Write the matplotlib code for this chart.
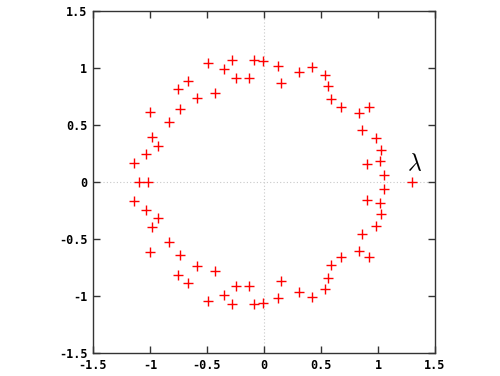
#!/usr/bin/env python3

"""Eigenvalue scatter in the complex plane, gnuplot style."""

import matplotlib
matplotlib.use('Agg')
import matplotlib.pyplot as plt
import numpy as np

# Upper half-plane eigenvalues (the lower half is the conjugate mirror).
upper_re = [-1.137, -1.035, -0.982, -0.933, -0.997, -0.833, -0.734, -0.751,
            -0.670, -0.588, -0.488, -0.427, -0.351, -0.281, -0.246, -0.135,
            -0.085, -0.009, 0.120, 0.146, 0.310, 0.418, 0.538, 0.564,
            0.588, 0.673, 0.833, 0.918, 0.857, 0.982, 1.029, 0.906,
            1.018, 1.053]
upper_im = [0.164, 0.246, 0.392, 0.319, 0.617, 0.526, 0.637, 0.819,
            0.883, 0.734, 1.047, 0.781, 0.991, 1.070, 0.909, 0.909,
            1.070, 1.061, 1.018, 0.866, 0.962, 1.006, 0.936, 0.842,
            0.725, 0.655, 0.608, 0.655, 0.456, 0.386, 0.281, 0.158,
            0.181, 0.064]
# Real eigenvalues.
real_re = [-1.096, -1.015, 1.301]

ticks = [-1.5, -1, -0.5, 0, 0.5, 1, 1.5]
tick_labels = ['-1.5', '-1', '-0.5', '0', '0.5', '1', '1.5']


def main():
    re = np.concatenate([upper_re, upper_re, real_re])
    im = np.concatenate([upper_im, -np.array(upper_im), np.zeros(len(real_re))])

    fig = plt.figure(figsize=(5.0, 3.76), dpi=100)
    ax = fig.add_axes([0.186, 0.0612, 0.684, 0.9095])

    ax.axhline(0, color='#c8c8c8', lw=0.8, ls=(0, (1, 2)), zorder=0)
    ax.axvline(0, color='#c8c8c8', lw=0.8, ls=(0, (1, 2)), zorder=0)

    ax.plot(re, im, ls='none', marker='+', color='red', ms=6.5, mew=1.0)

    ax.set_xlim(-1.5, 1.5)
    ax.set_ylim(-1.5, 1.5)
    ax.set_xticks(ticks)
    ax.set_yticks(ticks)
    font = {'family': 'DejaVu Sans Mono', 'weight': 'bold', 'size': 8.5}
    ax.set_xticklabels(tick_labels, fontdict=font)
    ax.set_yticklabels(tick_labels, fontdict=font)
    ax.tick_params(direction='in', length=5, width=1, top=True, right=True,
                   color='#333333', pad=4)
    for s in ax.spines.values():
        s.set_color('#333333')
        s.set_linewidth(1.0)

    plt.rcParams['mathtext.fontset'] = 'cm'
    ax.text(1.32, 0.165, r'$\lambda$', fontsize=17, ha='center', va='center')

    fig.savefig('out.png', dpi=100)


if __name__ == '__main__':
    main()
